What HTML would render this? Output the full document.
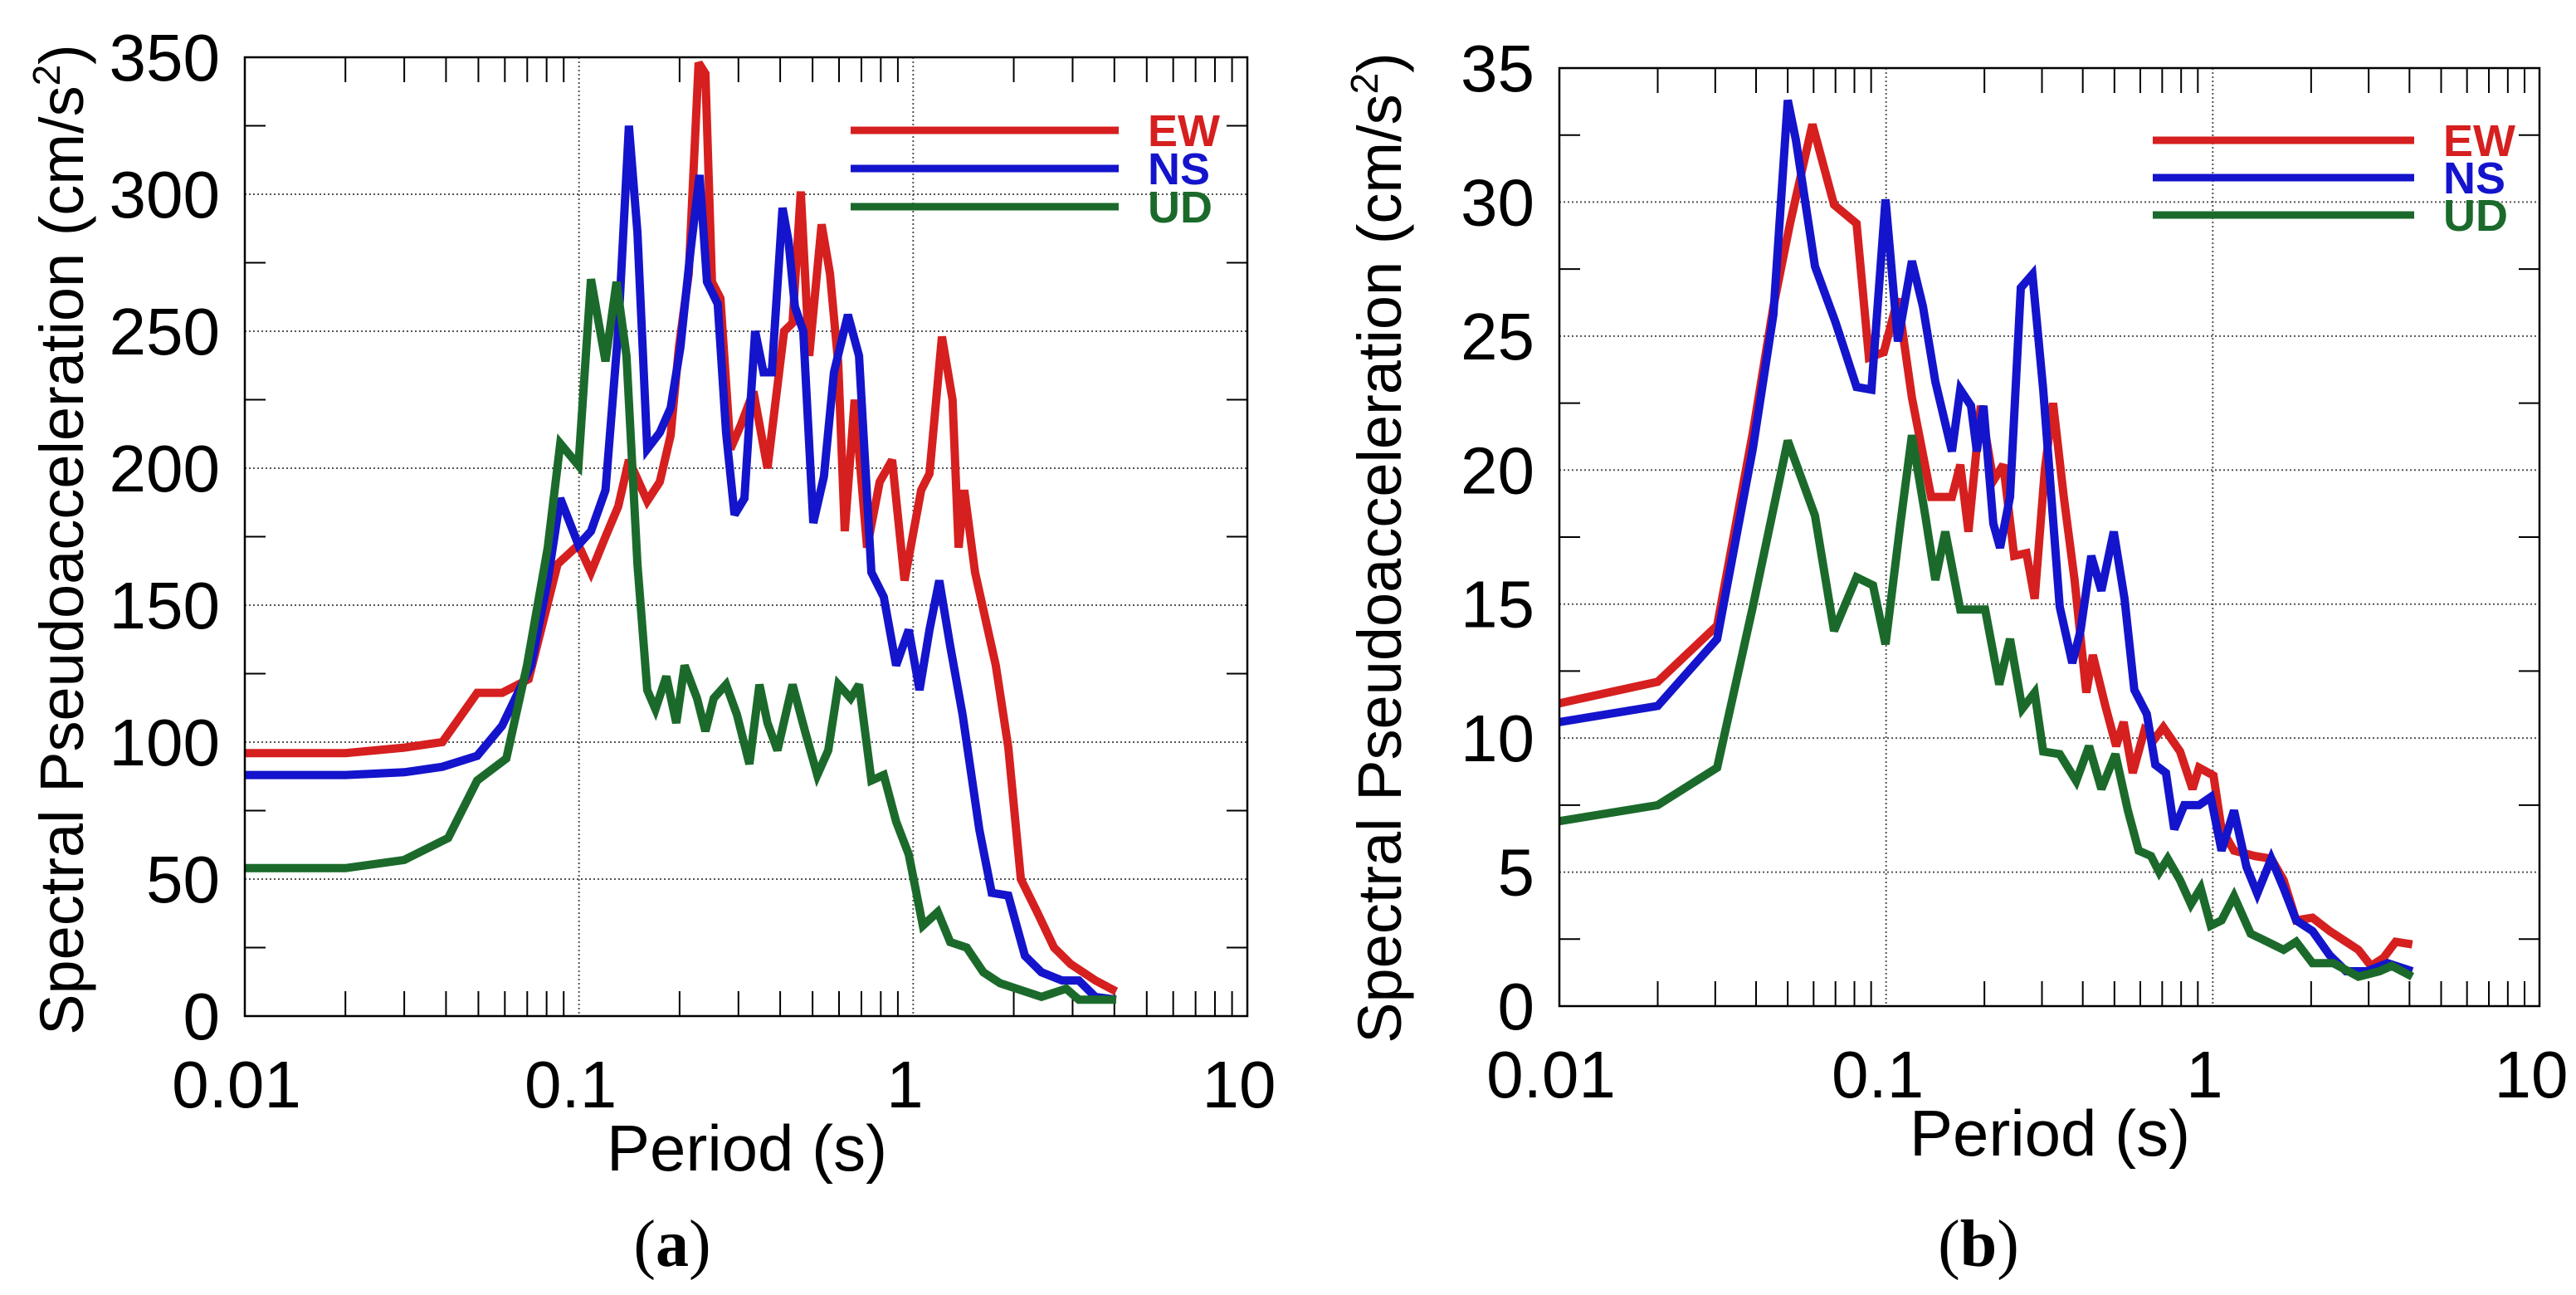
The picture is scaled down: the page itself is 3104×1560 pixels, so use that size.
<!DOCTYPE html>
<html><head><meta charset="utf-8"><style>
html,body{margin:0;padding:0;background:#fff;}
svg{display:block;}
text{font-family:"Liberation Sans",Arial,sans-serif;}
</style></head><body>
<svg id="fig" width="3104" height="1560" viewBox="0 0 3104 1560" xmlns="http://www.w3.org/2000/svg">
<g id="panelA"></g>
<g id="panelB"></g>
<text x="810" y="1525" font-size="80" text-anchor="middle" style="font-family:'Liberation Serif',serif">(<tspan font-weight="bold">a</tspan>)</text>
<text x="2384" y="1525" font-size="80" text-anchor="middle" style="font-family:'Liberation Serif',serif">(<tspan font-weight="bold">b</tspan>)</text>
</svg>
<script>
// ---- Panel (a) data ----
const aEwT=[0.01,0.02,0.03,0.039,0.0496,0.0589,0.0707,0.0863,0.0996,0.1086,0.120,0.131,0.141,0.160,0.1745,0.188,0.199,0.213,0.228,0.239,0.250,0.265,0.284,0.3055,0.3327,0.3665,0.411,0.4355,0.461,0.4887,0.532,0.5636,0.597,0.624,0.668,0.7278,0.794,0.865,0.942,1.057,1.119,1.219,1.312,1.368,1.422,1.532,1.767,1.927,2.10,2.35,2.64,2.96,3.51,4.05];
const aEwV=[96,96,98,100,118,118,123,165,172,162,175,186,203,188,195,212,244,271,348,344,268,262,207,216,228,200,250,253,301,241,289,271,238,177,225,171,195,203,159,192,198,248,225,171,192,162,128,98,50,38,25,19,13,9];
const aNsT=[0.01,0.02,0.03,0.039,0.0496,0.0589,0.0719,0.0806,0.0879,0.0996,0.1086,0.120,0.131,0.141,0.1496,0.160,0.1745,0.188,0.201,0.216,0.2296,0.2415,0.260,0.2755,0.292,0.3126,0.3365,0.3565,0.3776,0.4064,0.4236,0.4426,0.469,0.5025,0.5408,0.5794,0.638,0.6887,0.750,0.8166,0.889,0.970,1.045,1.119,1.197,1.291,1.406,1.578,1.718,1.927,2.16,2.42,2.79,3.13,3.51,4.05];
const aNsV=[88,88,89,91,95,106,128,159,189,172,177,192,250,325,286,207,213,222,244,280,307,268,260,213,183,189,250,235,235,295,283,259,250,180,197,235,256,241,162,153,128,141,119,141,159,135,110,68,45,44,22,16,13,13,7,6];
const aUdT=[0.01,0.02,0.03,0.0406,0.0496,0.0606,0.0699,0.0806,0.0879,0.0996,0.1086,0.120,0.1295,0.1387,0.1496,0.160,0.1694,0.1825,0.1955,0.207,0.2256,0.239,0.253,0.2755,0.297,0.3236,0.3467,0.3665,0.3926,0.4355,0.4745,0.5166,0.557,0.5974,0.650,0.6887,0.750,0.8166,0.889,0.970,1.069,1.185,1.291,1.446,1.622,1.820,2.04,2.42,2.87,3.13,4.05];
const aUdV=[54,54,57,65,86,94,128,171,209,201,269,239,268,241,165,119,112,124,107,128,116,104,116,121,110,92,121,107,97,121,104,88,97,121,116,121,86,88,71,59,33,38,27,25,16,12,10,7,10,6,6];
const aYTicks=[0,50,100,150,200,250,300,350];
const aYTickLabels=["0","50","100","150","200","250","300","350"];
const xTickVals=[0.01,0.1,1,10];
const xTickLabels=["0.01","0.1","1","10"];
const legendNames=["EW","NS","UD"];
// ---- Panel (b) data ----
const bEwT=[0.01,0.02,0.0304,0.0391,0.0452,0.0508,0.0595,0.0693,0.0812,0.0886,0.0984,0.1087,0.120,0.1374,0.159,0.1687,0.1787,0.195,0.213,0.2285,0.2466,0.269,0.285,0.306,0.3245,0.350,0.3776,0.410,0.4295,0.469,0.506,0.5333,0.569,0.618,0.667,0.706,0.794,0.867,0.908,1.005,1.064,1.161,1.345,1.51,1.648,1.80,2.02,2.28,2.56,2.79,3.05,3.33,3.63,4.08];
const bEwV=[11.3,12.1,14.2,21.4,26.1,29.2,32.9,29.9,29.2,24.2,24.4,26.4,22.7,19.0,19.0,20.2,17.7,22.4,19.6,20.2,16.8,16.9,15.2,20.0,22.5,19.0,15.9,11.7,13.1,11.2,9.7,10.6,8.7,10.3,10.0,10.4,9.5,8.1,8.9,8.6,6.6,5.8,5.6,5.5,4.7,3.2,3.3,2.8,2.4,2.1,1.5,1.8,2.4,2.3];
const bNsT=[0.01,0.02,0.0304,0.0391,0.0452,0.050,0.053,0.0606,0.0701,0.0812,0.0902,0.0996,0.1087,0.120,0.1297,0.1415,0.159,0.1687,0.182,0.1896,0.1986,0.213,0.2233,0.2395,0.2584,0.2805,0.3027,0.340,0.3715,0.3936,0.4246,0.456,0.4977,0.537,0.5754,0.628,0.667,0.719,0.762,0.818,0.908,0.986,1.064,1.161,1.268,1.368,1.51,1.648,1.80,2.02,2.28,2.56,2.96,3.43,4.08];
const bNsV=[10.6,11.2,13.7,20.8,25.8,33.8,32.3,27.6,25.5,23.1,23.0,30.1,24.8,27.8,26.1,23.3,20.7,23.0,22.4,20.7,22.4,18.0,17.1,19.0,26.8,27.3,23.0,14.9,12.8,14.0,16.8,15.5,17.7,15.2,11.8,10.9,9.0,8.7,6.6,7.5,7.5,7.8,5.8,7.3,5.2,4.2,5.5,4.4,3.2,2.8,1.9,1.3,1.3,1.6,1.3];
const bUdT=[0.01,0.02,0.0304,0.0391,0.050,0.0606,0.0693,0.0812,0.0912,0.0996,0.1106,0.120,0.1318,0.1415,0.1518,0.1687,0.201,0.222,0.2395,0.2613,0.285,0.3027,0.340,0.382,0.418,0.456,0.5035,0.5495,0.593,0.647,0.6855,0.7278,0.794,0.857,0.918,0.986,1.064,1.161,1.306,1.469,1.648,1.80,2.02,2.34,2.79,3.24,3.53,4.08];
const bUdV=[6.9,7.5,8.9,14.9,21.1,18.3,14.0,16.0,15.7,13.5,18.0,21.3,18.3,15.9,17.7,14.8,14.8,12.0,13.7,11.1,11.7,9.5,9.4,8.4,9.7,8.1,9.4,7.3,5.8,5.6,5.0,5.5,4.7,3.8,4.4,3.0,3.2,4.1,2.7,2.4,2.1,2.4,1.6,1.6,1.1,1.3,1.5,1.1];
const bYTicks=[0,5,10,15,20,25,30,35];
const bYTickLabels=["0","5","10","15","20","25","30","35"];

const NS='http://www.w3.org/2000/svg';
const COLORS=['#d61f1f','#1414cc','#1b6a2b'];
function mk(parent,tag,attrs){const e=document.createElementNS(NS,tag);for(const k in attrs)e.setAttribute(k,attrs[k]);parent.appendChild(e);return e;}

function drawPanel(g,cfg,series,yTicks,yLabels,yMax,yMinor){
  const L=cfg.L,R=cfg.R,T=cfg.T,B=cfg.B;
  const xs=v=>L+(Math.log10(v)+2)/3*(R-L);
  const ys=v=>B-v/yMax*(B-T);
  for(const v of xTickVals){ if(v<=0.01||v>=10) continue;
    const l=mk(g,'line',{x1:xs(v),x2:xs(v),y1:T,y2:B,stroke:'#555','stroke-width':2,'stroke-dasharray':'2,3'});
    
    
  }
  for(const v of yTicks){ if(v<=0||v>=yMax) continue;
    const l=mk(g,'line',{x1:L,x2:R,y1:ys(v),y2:ys(v),stroke:'#555','stroke-width':2,'stroke-dasharray':'2,3'});
    
    
  }
  for(let d=-2;d<1;d++){for(let m=2;m<10;m++){const v=m*Math.pow(10,d);const x=xs(v);const len=30;
    const t1=mk(g,'line',{x1:x,x2:x,y1:B,y2:B-len,stroke:'#000','stroke-width':2});
    
    
    const t2=mk(g,'line',{x1:x,x2:x,y1:T,y2:T+len,stroke:'#000','stroke-width':2});
    
    
  }}
  for(let v=yMinor;v<yMax;v+=yMinor*2){
    const t1=mk(g,'line',{x1:L,x2:L+25,y1:ys(v),y2:ys(v),stroke:'#000','stroke-width':2});
    
    
    const t2=mk(g,'line',{x1:R,x2:R-25,y1:ys(v),y2:ys(v),stroke:'#000','stroke-width':2});
    
    
  }
  series.forEach((s,i)=>{
    const d=s.t.map((t,j)=>(j?'L':'M')+xs(t).toFixed(1)+','+ys(s.v[j]).toFixed(1)).join(' ');
    const p=mk(g,'path',{d:d,fill:'none',stroke:COLORS[i],'stroke-width':10,'stroke-linejoin':'miter','stroke-miterlimit':3});
    
    
  });
  const f=mk(g,'rect',{x:L,y:T,width:R-L,height:B-T,fill:'none',stroke:'#000','stroke-width':2.5});
  
  
  yTicks.forEach((v,i)=>{
    const t=mk(g,'text',{x:L-30,y:ys(v)+28,'font-size':80,'text-anchor':'end',fill:'#000'});
    t.textContent=yLabels[i];
    
    
  });
  xTickVals.forEach((v,i)=>{
    const t=mk(g,'text',{x:xs(v)-10,y:B+110,'font-size':80,'text-anchor':'middle',fill:'#000'});
    t.textContent=xTickLabels[i];
    
    
  });
  const xt=mk(g,'text',{x:cfg.xtx,y:cfg.xty,'font-size':78,'text-anchor':'middle',fill:'#000'});
  xt.textContent='Period (s)';
  
  
  const yt=mk(g,'text',{x:0,y:0,'font-size':74,'text-anchor':'middle',fill:'#000',transform:'translate('+cfg.ytx+','+cfg.yty+') rotate(-90)'});
  yt.innerHTML='Spectral Pseudoacceleration (cm/s<tspan dy="-28" font-size="46">2</tspan><tspan dy="28">)</tspan>';
  
  
  legendNames.forEach((n,i)=>{
    const y=cfg.legY+i*cfg.legDy;
    const ln=mk(g,'line',{x1:cfg.legX1,x2:cfg.legX2,y1:y,y2:y,stroke:COLORS[i],'stroke-width':9});
    
    
    const t=mk(g,'text',{x:cfg.legX2+35,y:y+19,'font-size':54,'font-weight':'bold',fill:COLORS[i]});
    t.textContent=n;
    
    
  });
}

drawPanel(document.getElementById('panelA'),
  {L:295,R:1503,T:69,B:1224,xtx:900,xty:1410,ytx:100,yty:650,legX1:1025,legX2:1348,legY:157,legDy:46},
  [{t:aEwT,v:aEwV},{t:aNsT,v:aNsV},{t:aUdT,v:aUdV}],aYTicks,aYTickLabels,350,25);
drawPanel(document.getElementById('panelB'),
  {L:1879,R:3060,T:82,B:1212,xtx:2470,xty:1392,ytx:1688,yty:660,legX1:2594,legX2:2909,legY:169,legDy:45},
  [{t:bEwT,v:bEwV},{t:bNsT,v:bNsV},{t:bUdT,v:bUdV}],bYTicks,bYTickLabels,35,2.5);
</script>
</body></html>
